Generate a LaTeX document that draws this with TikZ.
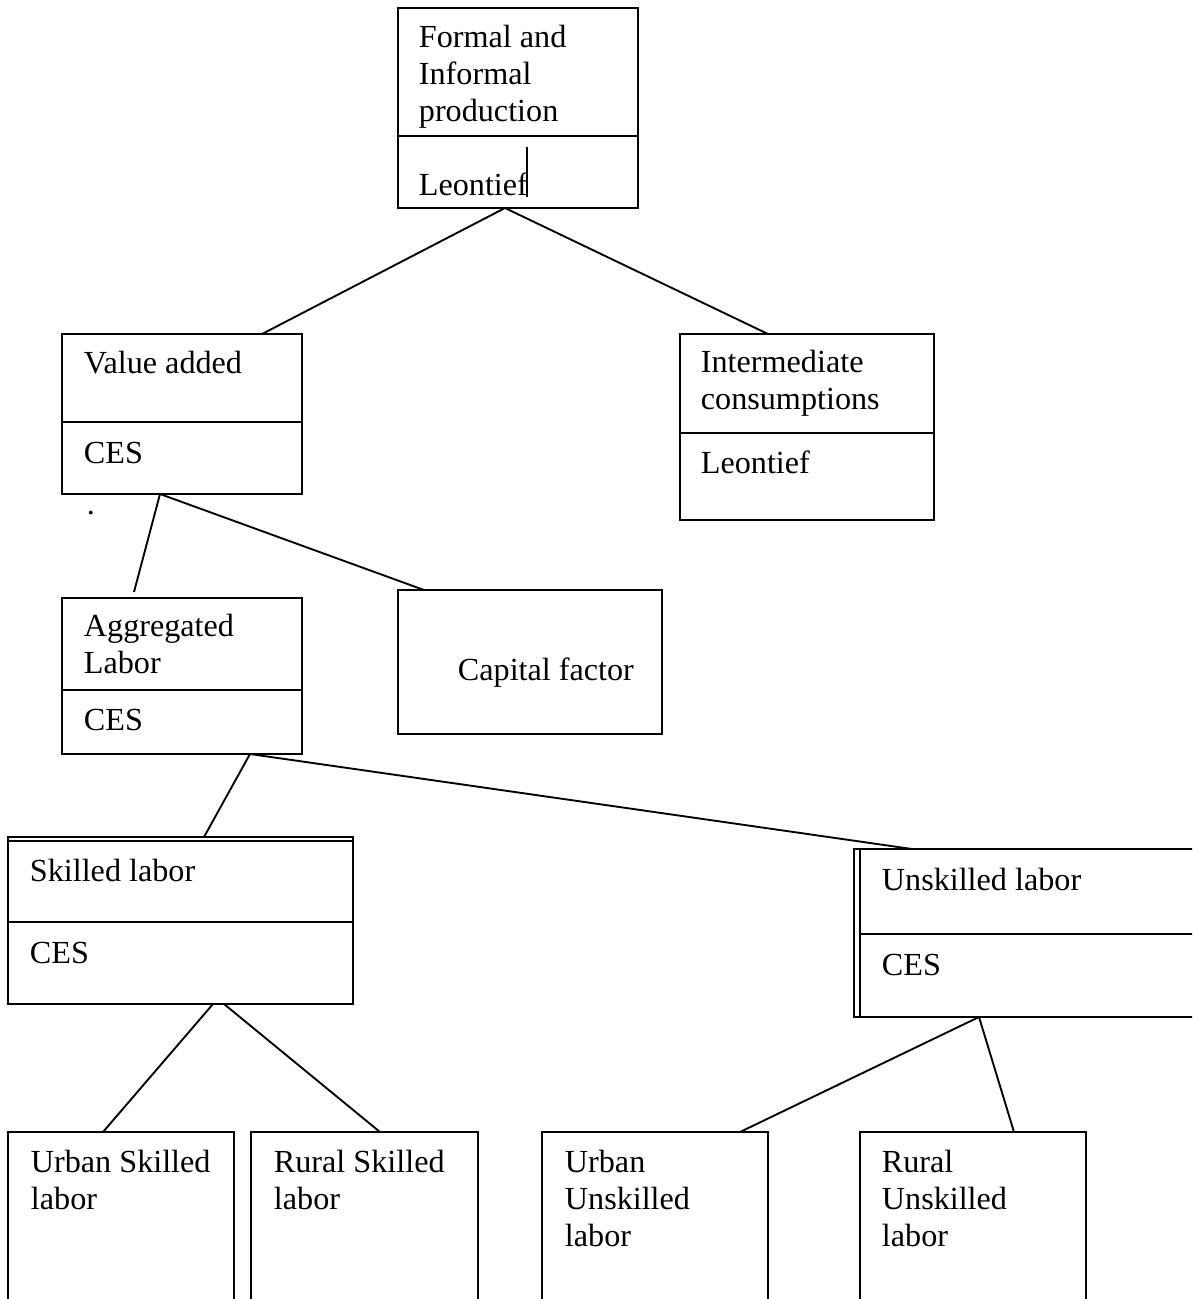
\documentclass[tikz,border=0pt]{standalone}
\usepackage{fontspec}
\setmainfont{Liberation Serif}
\def\pxu{0.373pt}

\begin{document}
\begin{tikzpicture}[x=0.373pt,y=-0.373pt,line width=0.7pt,
                box/.style={draw=black,shape=rectangle,inner sep=0pt,outer sep=0pt},
                lbl/.style={anchor=base west,inner sep=0pt,align=left,font=\fontsize{12}{13.8}\selectfont}]
                \useasboundingbox (0,0) rectangle (1192,1299);
                \clip (0,0) rectangle (1192,1299);
                % boxes
                \node[box,minimum width=240*\pxu,minimum height=200*\pxu](top)at(518, 108){};
                \node[box,minimum width=240*\pxu,minimum height=160*\pxu](va)at(182, 414){};
                \node[box,minimum width=254*\pxu,minimum height=186*\pxu](ic)at(807, 427){};
                \node[box,minimum width=240*\pxu,minimum height=156*\pxu](al)at(182, 676){};
                \node[box,minimum width=264*\pxu,minimum height=144*\pxu](cap)at(530, 662){};
                \node[box,minimum width=345*\pxu,minimum height=163*\pxu](sk)at(180.5, 922.5){};
                \node[box,minimum width=340*\pxu,minimum height=168*\pxu](usk)at(1030, 933){};
                \node[box,minimum width=226*\pxu,minimum height=208*\pxu](us)at(121, 1236){};
                \node[box,minimum width=227*\pxu,minimum height=208*\pxu](rs)at(364.5, 1236){};
                \node[box,minimum width=226*\pxu,minimum height=208*\pxu](uu)at(655, 1236){};
                \node[box,minimum width=226*\pxu,minimum height=208*\pxu](ru)at(973, 1236){};
                % dividers
                \draw (top.west |- 0,136) -- (top.east |- 0,136);
                \draw (va.west |- 0,422) -- (va.east |- 0,422);
                \draw (ic.west |- 0,433) -- (ic.east |- 0,433);
                \draw (al.west |- 0,690) -- (al.east |- 0,690);
                \draw (sk.west |- 0,922) -- (sk.east |- 0,922);
                \draw (usk.west |- 0,934) -- (usk.east |- 0,934);
                % double edges
                \draw (sk.north west) |- ([yshift=4*\pxu]sk.north east) -- (sk.north east);
                \draw (usk.north west) -| ([xshift=-6*\pxu]usk.south west) -- (usk.south west);
                % texts (base = last line)
                \node[lbl](topname)at(418, 121){Formal and\\Informal\\production};
                \node[lbl](toprule)at(418, 195){Leontief};
                \draw[line width=0.4pt] (527, 147) -- (527, 197);
                \node[lbl](vaname)at(83, 373){Value added};
                \node[lbl](varule)at(83, 463){CES};
                \node[lbl](vadot)at(86, 514){.};
                \node[lbl](icname)at(700, 409){Intermediate\\consumptions};
                \node[lbl](icrule)at(700, 473){Leontief};
                \node[lbl](alname)at(83, 673){Aggregated\\Labor};
                \node[lbl](alrule)at(83, 730){CES};
                \node[lbl](capname)at(457, 680){Capital factor};
                \node[lbl](skname)at(29, 881){Skilled labor};
                \node[lbl](skrule)at(29, 963){CES};
                \node[lbl](uskname)at(881, 890){Unskilled labor};
                \node[lbl](uskrule)at(881, 975){CES};
                \node[lbl](usname)at(30, 1209){Urban Skilled\\labor};
                \node[lbl](rsname)at(273, 1209){Rural Skilled\\labor};
                \node[lbl](uuname)at(564, 1246){Urban\\Unskilled\\labor};
                \node[lbl](runame)at(881, 1246){Rural\\Unskilled\\labor};
                % connectors
                \path[]([xshift=-13*\pxu]top.south) edge ([xshift=80*\pxu]va.north)
                ([xshift=-13*\pxu]top.south) edge ([xshift=-39*\pxu]ic.north)
                ([xshift=-22*\pxu]va.south) edge ([xshift=-48*\pxu,yshift=6*\pxu]al.north)
                ([xshift=-22*\pxu]va.south) edge ([xshift=-106*\pxu]cap.north)
                ([xshift=68*\pxu]al.south) edge ([xshift=23.5*\pxu,yshift=4*\pxu]sk.north)
                ([xshift=68*\pxu]al.south) edge ([xshift=-118*\pxu]usk.north)
                ([xshift=32.5*\pxu]sk.south) edge ([xshift=-18*\pxu]us.north)
                ([xshift=43.5*\pxu]sk.south) edge ([xshift=15.5*\pxu]rs.north)
                ([xshift=-51*\pxu]usk.south) edge ([xshift=85*\pxu]uu.north)
                ([xshift=-51*\pxu]usk.south) edge ([xshift=41*\pxu]ru.north);
            \end{tikzpicture}
\end{document}
